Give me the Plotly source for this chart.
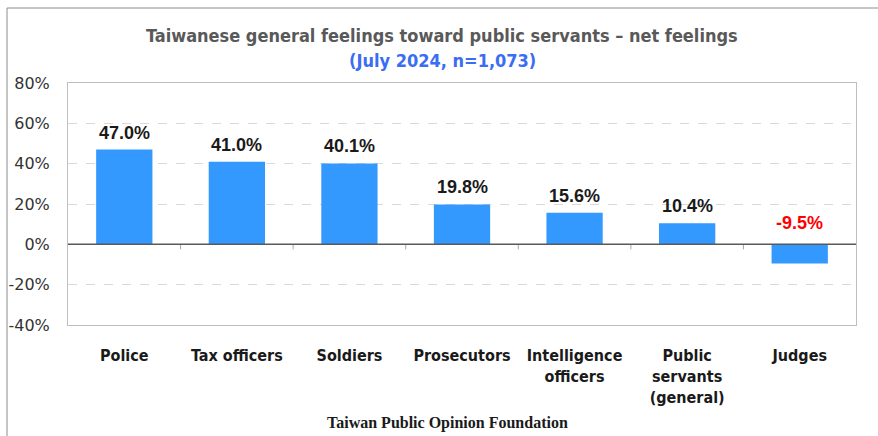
import plotly.graph_objects as go

categories = ["Police", "Tax officers", "Soldiers", "Prosecutors",
              "Intelligence<br>officers", "Public<br>servants<br>(general)", "Judges"]
net_feelings = [47.0, 41.0, 40.1, 19.8, 15.6, 10.4, -9.5]
tick_values = [-40, -20, 0, 20, 40, 60, 80]
tick_labels = [f"{v}%" for v in tick_values]

BAR_COLOR = "#3399ff"
NARROW = "Liberation Sans Narrow, DejaVu Sans Condensed, Arial Narrow, sans-serif"

positions = list(range(len(categories)))

fig = go.Figure(go.Bar(
    x=positions, y=net_feelings, width=0.5,
    marker=dict(color=BAR_COLOR, line=dict(width=0)),
    hoverinfo="skip",
))

# value labels above each bar (negative values sit above the zero line, in red)
for x, v in zip(positions, net_feelings):
    neg = v < 0
    fig.add_annotation(
        x=x, y=max(v, 0), text=f"{v:.1f}%", showarrow=False,
        yanchor="bottom", yshift=5 if not neg else 9,
        font=dict(family="Liberation Sans, Arial, sans-serif", size=18,
                  color="#ff0000" if neg else "#1a1a1a", weight="bold"),
    )

# small category separator ticks hanging below the zero line
for i in range(len(categories) - 1):
    fig.add_shape(type="line", xref="x", yref="y", x0=i + 0.5, x1=i + 0.5,
                  y0=0, y1=-2.5, line=dict(color="#a6a6a6", width=1))

# zero line
fig.add_shape(type="line", xref="paper", yref="y", x0=0, x1=1, y0=0, y1=0,
              line=dict(color="#595959", width=1.5))

# outer chart border
fig.add_shape(type="rect", xref="paper", yref="paper",
              x0=-61 / 788, x1=1.05, y0=1 + 75 / 242, y1=-0.6,
              line=dict(color="#8c8c8c", width=1), layer="below")

fig.add_annotation(
    xref="paper", yref="paper", x=0.5 - 20 / 788, y=1 + 48 / 242, yanchor="middle",
    text="Taiwanese general feelings toward public servants – net feelings",
    showarrow=False, font=dict(family=NARROW, size=18, color="#595959", weight="bold"))
fig.add_annotation(
    xref="paper", yref="paper", x=0.5 - 20 / 788, y=1 + 23 / 242, yanchor="middle",
    text="(July 2024, n=1,073)", showarrow=False,
    font=dict(family=NARROW, size=18, color="#3a6cf4", weight="bold"))
fig.add_annotation(
    xref="paper", yref="paper", x=0.5 - 15 / 788, y=-98 / 242, yanchor="middle",
    text="<b>Taiwan Public Opinion Foundation</b>", showarrow=False,
    font=dict(family="Liberation Serif, Times New Roman, serif", size=16, color="#1a1a1a"))

fig.update_layout(
    width=878, height=436,
    margin=dict(l=68, r=22, t=83, b=111),
    paper_bgcolor="white", plot_bgcolor="white",
    showlegend=False, bargap=0.5,
)
fig.update_xaxes(
    range=[-0.5, len(categories) - 0.5], automargin=False,
    tickmode="array", tickvals=positions, ticktext=categories,
    ticks="outside", ticklen=16, tickcolor="rgba(0,0,0,0)",
    tickfont=dict(family=NARROW, size=16, color="#1a1a1a", weight="bold"),
    showgrid=False, zeroline=False,
    showline=True, mirror=True, linecolor="#bfbfbf", linewidth=1,
)
fig.update_yaxes(
    range=[-40, 80], automargin=False,
    tickmode="array", tickvals=tick_values, ticktext=tick_labels,
    ticks="outside", ticklen=14, tickcolor="rgba(0,0,0,0)",
    tickfont=dict(family="DejaVu Sans, Verdana, sans-serif", size=16, color="#333333"),
    showgrid=True, gridcolor="#d9d9d9", griddash="dash", gridwidth=1,
    zeroline=False,
    showline=True, mirror=True, linecolor="#bfbfbf", linewidth=1,
)

fig.write_html("out.html")
